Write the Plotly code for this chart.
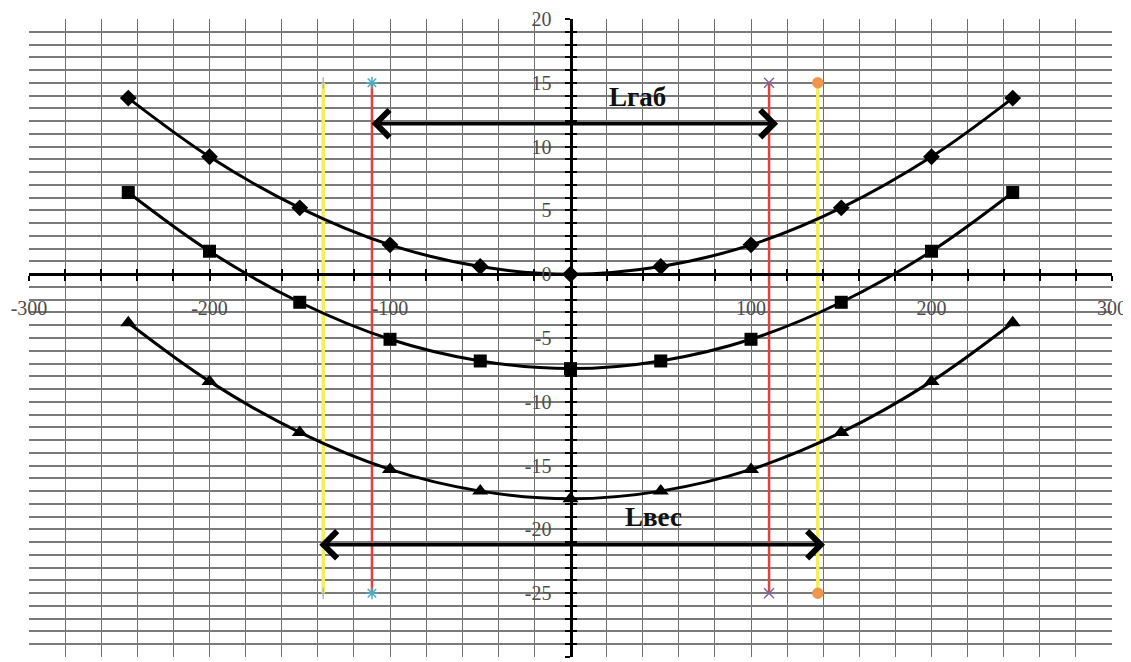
import plotly.graph_objects as go

# ---- data ----
x_pts = [-245, -200, -150, -100, -50, 0, 50, 100, 150, 200, 245]
y_top = [13.8, 9.2, 5.2, 2.3, 0.6, 0.0, 0.6, 2.3, 5.2, 9.2, 13.8]
y_mid = [6.4, 1.8, -2.2, -5.1, -6.8, -7.4, -6.8, -5.1, -2.2, 1.8, 6.4]
y_low = [-3.8, -8.4, -12.4, -15.3, -17.0, -17.6, -17.0, -15.3, -12.4, -8.4, -3.8]

red_left_x = [-110, -110]
red_right_x = [110, 110]
yel_left_x = [-137, -137]
yel_right_x = [137, 137]
vert_y = [15, -25]

arrow_gab = dict(x0=-111, x1=115, y=11.8, text="Lгаб", tx=37, ty=13.9)
arrow_ves = dict(x0=-140, x1=141, y=-21.2, text="Lвес", tx=46, ty=-19.0)

x_ticks = list(range(-300, 301, 20))
x_labels = [str(v) if (v % 100 == 0 and v != 0) else "" for v in x_ticks]
y_ticks = list(range(-30, 21, 1))
y_labels = [str(v) if v % 5 == 0 else "" for v in y_ticks]

XR = [-300, 300]
YR = [-30, 20]
xpos = (0 - YR[0]) / (YR[1] - YR[0])   # paper position of y=0
ypos = (0 - XR[0]) / (XR[1] - XR[0])   # paper position of x=0

fig = go.Figure()

# vertical guide lines
def vline(xs, color, width, sym, mcolor, msize):
    fig.add_trace(go.Scatter(
        x=xs, y=vert_y, mode="lines+markers",
        line=dict(color=color, width=width),
        marker=dict(symbol=sym, color=mcolor, size=msize,
                    line=dict(color=mcolor, width=1.5)),
        showlegend=False, hoverinfo="skip"))

vline(yel_left_x, "#f3ef5a", 3.5, "line-ns-open", "#a8b8c8", 8)
vline(yel_right_x, "#f3ef5a", 3.5, "circle", "#f0954a", 10)
vline(red_left_x, "#e5413b", 2.5, "asterisk-open", "#4bacc6", 10)
vline(red_right_x, "#e5413b", 2.5, "x-thin-open", "#8064a2", 10)

# curves
for ys, sym, size in [(y_top, "diamond", 13), (y_mid, "square", 13), (y_low, "triangle-up", 14)]:
    fig.add_trace(go.Scatter(
        x=x_pts, y=ys, mode="lines+markers",
        line=dict(color="black", width=3, shape="spline", smoothing=1),
        marker=dict(symbol=sym, color="black", size=size),
        showlegend=False, hoverinfo="skip"))

# dummy for overlay axes (inside ticks)
fig.add_trace(go.Scatter(x=[None], y=[None], xaxis="x2", yaxis="y2", showlegend=False))

# arrows + labels
for a in (arrow_gab, arrow_ves):
    fig.add_annotation(x=a["x1"], y=a["y"], ax=a["x0"], ay=a["y"],
                       xref="x", yref="y", axref="x", ayref="y",
                       showarrow=True, arrowhead=4, arrowside="end+start",
                       arrowsize=1.5, arrowwidth=3.5, arrowcolor="black",
                       standoff=0, startstandoff=0, text="")
    fig.add_annotation(x=a["tx"], y=a["ty"], xref="x", yref="y", text="<b>%s</b>" % a["text"],
                       showarrow=False,
                       font=dict(family="Liberation Serif", size=27, color="#111111"))

tickfont = dict(family="Liberation Serif", size=20, color="#4d4d4d")
fig.update_layout(
    width=1123, height=654,
    margin=dict(l=21, r=19, t=11, b=5, autoexpand=False),
    paper_bgcolor="white", plot_bgcolor="white",
    xaxis=dict(range=XR, tickmode="array", tickvals=x_ticks, ticktext=x_labels,
               anchor="free", position=xpos, showline=True, linecolor="black", linewidth=3,
               ticks="outside", ticklen=5, tickwidth=2, tickcolor="black",
               showgrid=True, gridcolor="#6e6e6e", gridwidth=1.2, zeroline=False,
               tickfont=tickfont, ticklabelstandoff=10, automargin=False),
    yaxis=dict(range=YR, tickmode="array", tickvals=y_ticks, ticktext=y_labels,
               anchor="free", position=ypos, showline=True, linecolor="black", linewidth=3,
               ticks="outside", ticklen=5, tickwidth=2, tickcolor="black",
               showgrid=True, gridcolor="#7a7a7a", gridwidth=1.6, zeroline=False,
               tickfont=tickfont, ticklabelstandoff=9, automargin=False),
    xaxis2=dict(range=XR, overlaying="x", anchor="free", position=xpos,
                tickmode="array", tickvals=x_ticks, ticks="inside", ticklen=5, tickwidth=2,
                tickcolor="black", showticklabels=False, showgrid=False, zeroline=False,
                showline=False, automargin=False),
    yaxis2=dict(range=YR, overlaying="y", anchor="free", position=ypos,
                tickmode="array", tickvals=y_ticks, ticks="inside", ticklen=5, tickwidth=2,
                tickcolor="black", showticklabels=False, showgrid=False, zeroline=False,
                showline=False, automargin=False),
)

fig.write_html("out.html")
